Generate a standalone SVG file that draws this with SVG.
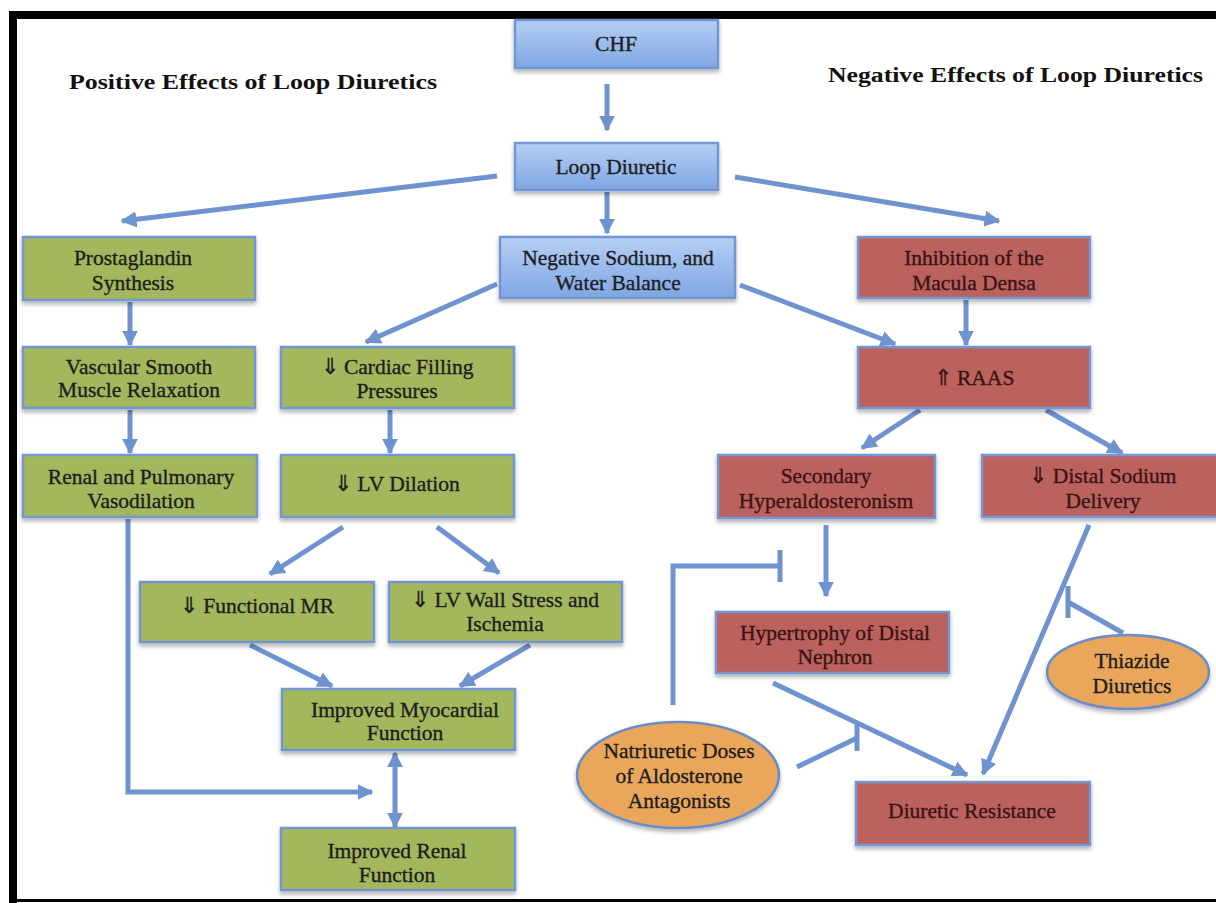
<svg xmlns="http://www.w3.org/2000/svg" width="1216" height="903" viewBox="0 0 1216 903">
<defs>
<linearGradient id="gBlue" x1="0" y1="0" x2="0" y2="1">
<stop offset="0" stop-color="#b6cff5"/><stop offset="1" stop-color="#7fa6e3"/>
</linearGradient>
<filter id="sh" x="-10%" y="-10%" width="120%" height="130%">
<feDropShadow dx="0" dy="3" stdDeviation="2" flood-color="#000" flood-opacity="0.3"/>
</filter>
<marker id="ah" viewBox="0 0 10 10" refX="9" refY="5" markerWidth="16" markerHeight="16" markerUnits="userSpaceOnUse" orient="auto-start-reverse">
<path d="M0,0 L10,5 L0,10 Z" fill="#6f93cf"/>
</marker>
<style>
.bx{stroke:#7396d2;stroke-width:2.5;filter:url(#sh)}
.blue{fill:url(#gBlue)}
.green{fill:#a3b75c}
.red{fill:#bb625e}
.orange{fill:#eaa65a;stroke:#6b8cc8;stroke-width:2.5;filter:url(#sh)}
.t{font-family:"Liberation Serif","Times New Roman",serif;font-size:21.5px;text-anchor:middle;fill:#1e1e1e;stroke:#1e1e1e;stroke-width:0.35}
.tr{fill:#3a1414;stroke:#3a1414}
.title{font-family:"Liberation Serif","Times New Roman",serif;font-size:20px;font-weight:bold;fill:#111}
.c{stroke:#6f93cf;stroke-width:5;fill:none}
.a{marker-end:url(#ah)}
</style>
</defs>
<rect x="0" y="0" width="1216" height="903" fill="#ffffff"/>
<rect x="9" y="11" width="1207" height="8" fill="#000"/>
<rect x="9" y="11" width="8" height="892" fill="#000"/>
<rect x="9" y="899" width="1207" height="3" fill="#000"/>

<text class="title" x="69" y="89" textLength="368" lengthAdjust="spacingAndGlyphs">Positive Effects of  Loop Diuretics</text>
<text class="title" x="828" y="82" textLength="375" lengthAdjust="spacingAndGlyphs">Negative Effects of  Loop Diuretics</text>

<g id="connectors">
<line class="c a" x1="607" y1="84" x2="607" y2="130"/>
<line class="c a" x1="497" y1="176" x2="122" y2="221"/>
<line class="c a" x1="607" y1="192" x2="607" y2="233"/>
<line class="c a" x1="735" y1="177" x2="999" y2="221"/>
<line class="c a" x1="497" y1="284" x2="366" y2="342"/>
<line class="c a" x1="740" y1="285" x2="895" y2="344"/>
<line class="c a" x1="130" y1="302" x2="130" y2="345"/>
<line class="c a" x1="966" y1="300" x2="966" y2="345"/>
<line class="c a" x1="130" y1="410" x2="130" y2="453"/>
<line class="c a" x1="390" y1="410" x2="390" y2="453"/>
<line class="c a" x1="920" y1="410" x2="862" y2="448"/>
<line class="c a" x1="1046" y1="410" x2="1122" y2="453"/>
<line class="c a" x1="343" y1="527" x2="270" y2="574"/>
<line class="c a" x1="437" y1="527" x2="499" y2="573"/>
<line class="c a" x1="250" y1="645" x2="332" y2="686"/>
<line class="c a" x1="530" y1="645" x2="460" y2="686"/>
<polyline class="c a" points="128,519 128,792 372,792"/>
<line class="c a" x1="395" y1="753" x2="395" y2="827" marker-start="url(#ah)"/>
<line class="c a" x1="826" y1="525" x2="826" y2="596"/>
<line class="c a" x1="1089" y1="525" x2="983" y2="774"/>
<line class="c a" x1="773" y1="683" x2="967" y2="775"/>
<polyline class="c" points="1123,633 1068,602"/>
<line class="c" x1="1068" y1="586" x2="1068" y2="618"/>
<polyline class="c" points="673,705 673,566 780,566"/>
<line class="c" x1="780" y1="550" x2="780" y2="582"/>
<line class="c" x1="797" y1="767" x2="857" y2="738"/>
<line class="c" x1="857" y1="722" x2="857" y2="751"/>
</g>

<g id="n-chf"><rect class="bx blue" x="515" y="20" width="203" height="48"/><text class="t" x="616" y="51">CHF</text></g>
<g id="n-loop"><rect class="bx blue" x="515" y="143" width="203" height="47"/><text class="t" x="616" y="174">Loop Diuretic</text></g>
<g id="n-neg"><rect class="bx blue" x="500" y="237" width="235" height="61"/><text class="t" x="618" y="265">Negative Sodium, and</text><text class="t" x="618" y="290">Water Balance</text></g>
<g id="n-prost"><rect class="bx green" x="23" y="237" width="232" height="63"/><text class="t" x="133" y="265">Prostaglandin</text><text class="t" x="133" y="290">Synthesis</text></g>
<g id="n-macula"><rect class="bx red" x="858" y="237" width="232" height="61"/><text class="t tr" x="974" y="265">Inhibition of the</text><text class="t tr" x="974" y="290">Macula Densa</text></g>
<g id="n-vsm"><rect class="bx green" x="23" y="347" width="232" height="61"/><text class="t" x="139" y="374">Vascular Smooth</text><text class="t" x="139" y="397">Muscle Relaxation</text></g>
<g id="n-cfp"><rect class="bx green" x="281" y="347" width="233" height="61"/><text class="t" x="397" y="374">⇓ Cardiac Filling</text><text class="t" x="397" y="398">Pressures</text></g>
<g id="n-raas"><rect class="bx red" x="858" y="347" width="232" height="61"/><text class="t tr" x="974" y="385">⇑ RAAS</text></g>
<g id="n-rpv"><rect class="bx green" x="23" y="455" width="234" height="62"/><text class="t" x="141" y="484">Renal and Pulmonary</text><text class="t" x="141" y="508">Vasodilation</text></g>
<g id="n-lvd"><rect class="bx green" x="281" y="455" width="233" height="62"/><text class="t" x="397" y="491">⇓ LV Dilation</text></g>
<g id="n-sec"><rect class="bx red" x="718" y="455" width="217" height="63"/><text class="t tr" x="826" y="483">Secondary</text><text class="t tr" x="826" y="508">Hyperaldosteronism</text></g>
<g id="n-dsd"><rect class="bx red" x="982" y="455" width="236" height="62"/><text class="t tr" x="1103" y="483">⇓ Distal Sodium</text><text class="t tr" x="1103" y="508">Delivery</text></g>
<g id="n-fmr"><rect class="bx green" x="140" y="582" width="234" height="60"/><text class="t" x="257" y="613">⇓ Functional MR</text></g>
<g id="n-lvw"><rect class="bx green" x="389" y="582" width="233" height="60"/><text class="t" x="505" y="607">⇓ LV Wall Stress and</text><text class="t" x="505" y="631">Ischemia</text></g>
<g id="n-hyp"><rect class="bx red" x="716" y="612" width="233" height="61"/><text class="t tr" x="835" y="640">Hypertrophy of Distal</text><text class="t tr" x="835" y="664">Nephron</text></g>
<g id="n-imf"><rect class="bx green" x="282" y="689" width="233" height="61"/><text class="t" x="405" y="717">Improved Myocardial</text><text class="t" x="405" y="740">Function</text></g>
<g id="n-irf"><rect class="bx green" x="281" y="828" width="234" height="62"/><text class="t" x="397" y="858">Improved Renal</text><text class="t" x="397" y="882">Function</text></g>
<g id="n-dr"><rect class="bx red" x="856" y="782" width="234" height="63"/><text class="t tr" x="972" y="818">Diuretic Resistance</text></g>
<g id="n-nda"><ellipse class="orange" cx="678" cy="775" rx="101" ry="53"/><text class="t" x="679" y="758">Natriuretic Doses</text><text class="t" x="679" y="783">of Aldosterone</text><text class="t" x="679" y="808">Antagonists</text></g>
<g id="n-thz"><ellipse class="orange" cx="1128" cy="672" rx="81" ry="37"/><text class="t" x="1132" y="668">Thiazide</text><text class="t" x="1132" y="693">Diuretics</text></g>
</svg>
